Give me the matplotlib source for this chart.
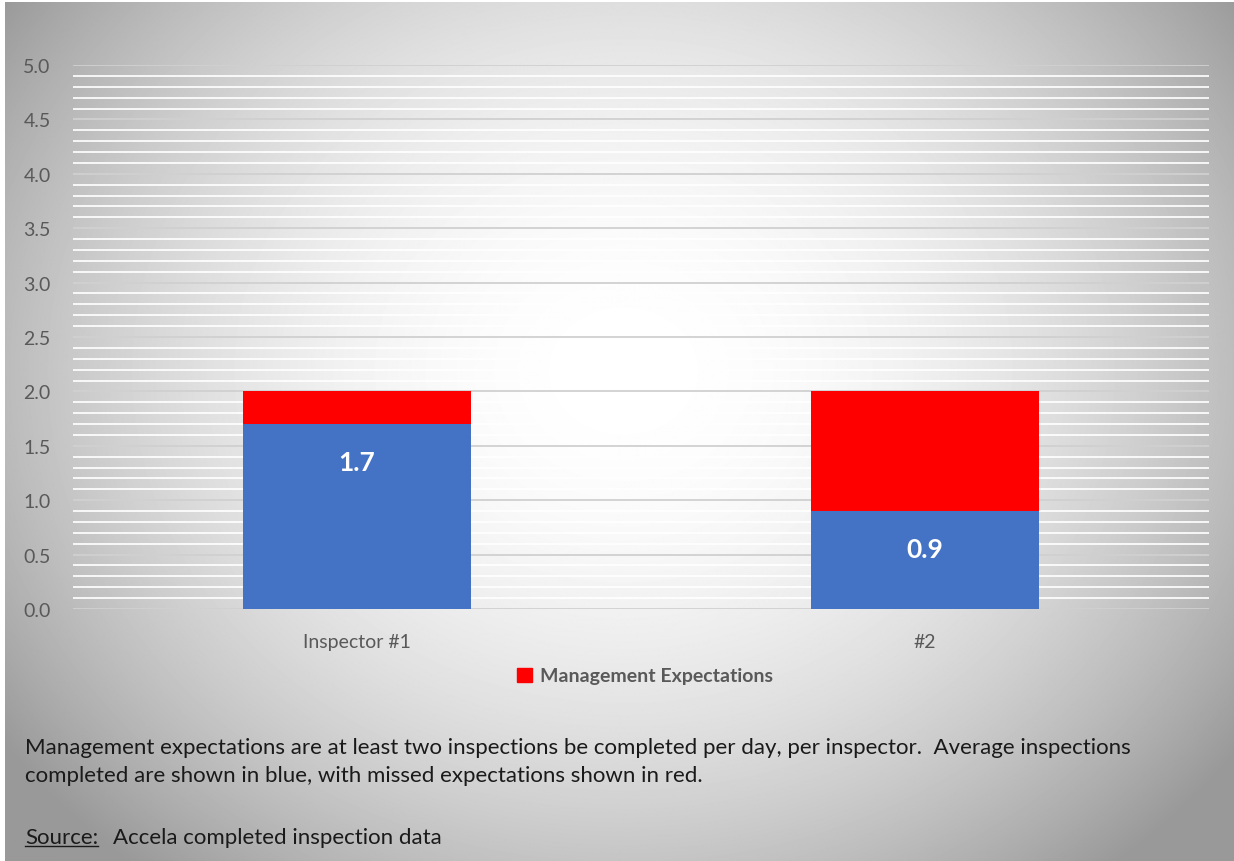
import numpy as np
import matplotlib
matplotlib.use("Agg")
import matplotlib.pyplot as plt
from matplotlib.lines import Line2D
from matplotlib.patches import Patch

plt.rcParams["font.family"] = ["Lato", "DejaVu Sans"]

# Inspections per day, per inspector
categories = ["Inspector #1", "#2"]
completed = [1.7, 0.9]
expected = [2.0, 2.0]
missed = [e - c for e, c in zip(expected, completed)]

BLUE = "#4472C4"
RED = "#FF0000"
GREY = "#595959"
INK = "#1a1a1a"

W, H = 1234, 862
fig = plt.figure(figsize=(W / 100, H / 100), dpi=100)

# radial grey background, bright in the middle
bg = fig.add_axes([0.004, 0.0, 0.996, 0.996], zorder=-10)
yy, xx = np.mgrid[0:H, 0:W]
r2 = ((xx - 620) / 680.0) ** 2 + ((yy - 370) / 580.0) ** 2
shade = np.clip(1.0 - 0.32 * r2, 0.6, 1.0)
bg.imshow(shade, cmap="gray", vmin=0, vmax=1, aspect="auto",
          interpolation="bilinear")
bg.axis("off")

ax = fig.add_axes([73 / W, 1 - 610 / H, (1209 - 73) / W, (610 - 66) / H])
ax.patch.set_alpha(0)
x = np.arange(len(categories))
ax.bar(x, completed, width=0.402, color=BLUE, zorder=3)
ax.bar(x, missed, width=0.402, bottom=completed, color=RED, zorder=3)

for xi, v in zip(x, completed):
    ax.annotate(f"{v:.1f}", xy=(xi, v), xytext=(0, -27),
                textcoords="offset points", ha="center", va="center",
                color="white", fontsize=19, fontweight="bold", zorder=4)

ax.set_xlim(-0.5, 1.5)
ax.set_ylim(0, 5)
ticks = np.arange(0, 5.01, 0.5)
ax.set_yticks(ticks)
ax.set_yticklabels([f"{t:.1f}" for t in ticks])
ax.set_yticks(np.arange(0, 5.01, 0.1), minor=True)
ax.grid(True, axis="y", which="minor", color="white", lw=1.3, alpha=0.95)
ax.grid(True, axis="y", which="major", color="#d0d0d0", lw=1.3)
ax.set_axisbelow(True)
ax.set_xticks(x)
ax.set_xticklabels(categories)
ax.tick_params(axis="both", which="both", length=0, colors=GREY,
               labelsize=14)
ax.tick_params(axis="y", pad=16)
ax.tick_params(axis="x", pad=17)
for s in ax.spines.values():
    s.set_visible(False)

fig.legend(handles=[Patch(color=RED, label="Management Expectations")],
           loc="center", bbox_to_anchor=(645 / W, 1 - 677 / H), frameon=False,
           handlelength=0.75, handleheight=0.75, handletextpad=0.4,
           prop={"size": 14, "weight": "bold"}, labelcolor=GREY)

note = ("Management expectations are at least two inspections be completed per day, per inspector.  "
        "Average inspections\ncompleted are shown in blue, with missed expectations shown in red.")
fig.text(25 / W, 1 - 762 / H, note, fontsize=16, color=INK,
         va="center", linespacing=1.55)

src = fig.text(25 / W, 1 - 838 / H, "Source:", fontsize=16, color=INK,
               va="center")
fig.text(113 / W, 1 - 838 / H, "Accela completed inspection data",
         fontsize=16, color=INK, va="center")

fig.canvas.draw()
bb = src.get_window_extent().transformed(fig.transFigure.inverted())
fig.add_artist(Line2D([bb.x0, bb.x1], [bb.y0 + 0.001, bb.y0 + 0.001],
                      color=INK, lw=1.0, transform=fig.transFigure))

fig.savefig("out.png", dpi=100)
